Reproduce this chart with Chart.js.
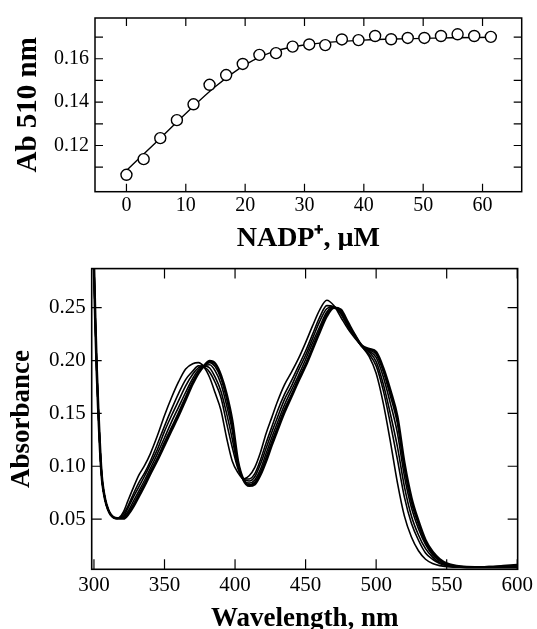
<!DOCTYPE html>
<html>
<head>
<meta charset="utf-8">
<title>NADP+ titration</title>
<script src="https://cdn.jsdelivr.net/npm/chart.js@4.4.0/dist/chart.umd.min.js"></script>
<style>
  html, body { margin: 0; padding: 0; background: #fff; }
  #wrap { position: relative; width: 537px; height: 629px; overflow: hidden; }
  #titrationChart { position: absolute; left: 0; top: 0; }
  #spectraChart { position: absolute; left: 0; top: 250px; }
</style>
</head>
<body>
<div id="wrap">
  <canvas id="titrationChart" width="537" height="250"></canvas>
  <canvas id="spectraChart" width="537" height="379"></canvas>
</div>
<script>
// Top panel: absorbance at 510 nm vs NADP+
const nadpConc = [0, 2.9, 5.7, 8.5, 11.3, 14.0, 16.8, 19.6, 22.4, 25.2, 28.0, 30.8,
    33.5, 36.3, 39.1, 41.9, 44.6, 47.4, 50.2, 53.0, 55.8, 58.6, 61.4];
const ab510 = [0.1065, 0.1137, 0.1234, 0.1317, 0.139, 0.148, 0.1525, 0.1576, 0.1618, 0.1626,
    0.1656, 0.1666, 0.1663, 0.1689, 0.1686, 0.1705, 0.169, 0.1696, 0.1696, 0.1705, 0.1713,
    0.1705, 0.1701];
const fitConc = [0, 5, 10, 15, 20, 25, 30, 35, 40, 45, 50, 55, 61.4];
const fitAb = [0.1085, 0.1215, 0.1348, 0.1472, 0.1572, 0.1635, 0.1664, 0.1678, 0.1686,
    0.1691, 0.1694, 0.1697, 0.1699];
const concTicks = [0, 10, 20, 30, 40, 50, 60];
const abTicks = [0.11, 0.12, 0.13, 0.14, 0.15, 0.16, 0.17];
const abLabels = [0.12, 0.14, 0.16];

// Bottom panel: spectra during the titration
const wavelengths = [300, 301, 302, 303, 304, 305, 306, 308, 310, 312, 315, 318, 321, 324,
    328, 332, 336, 340, 345, 350, 355, 360, 365, 370, 374, 378, 382, 386, 390, 394, 398, 402,
    406, 410, 414, 418, 422, 426, 430, 435, 440, 445, 450, 455, 460, 465, 470, 475, 480, 485,
    490, 495, 500, 505, 510, 515, 520, 525, 530, 535, 540, 545, 550, 560, 570, 580, 590, 600];
const absFree = [0.290, 0.235, 0.190, 0.155, 0.125, 0.100, 0.084, 0.068, 0.059, 0.054,
    0.0505, 0.0515, 0.057, 0.067,
    0.080, 0.092, 0.101, 0.112,
    0.129, 0.148, 0.165, 0.180, 0.192, 0.197,
    0.198, 0.194, 0.184, 0.169, 0.153, 0.127, 0.105, 0.094, 0.088, 0.091,
    0.099, 0.113, 0.131, 0.146, 0.161,
    0.177, 0.189, 0.202, 0.217, 0.233, 0.248, 0.257, 0.252, 0.241, 0.230, 0.221, 0.213, 0.204,
    0.188, 0.160, 0.124, 0.085, 0.053, 0.033, 0.020, 0.012, 0.008, 0.006, 0.005,
    0.0045, 0.0045, 0.005, 0.006, 0.007];
const absStep1 = [0.290, 0.235, 0.190, 0.155, 0.125, 0.100, 0.084, 0.068, 0.059, 0.054,
    0.051, 0.051, 0.055, 0.062,
    0.074, 0.085, 0.094, 0.105,
    0.121, 0.138, 0.154, 0.169, 0.182, 0.190,
    0.195, 0.194, 0.189, 0.179, 0.165, 0.141, 0.118, 0.098, 0.088, 0.088,
    0.093, 0.106, 0.122, 0.137, 0.152,
    0.168, 0.181, 0.195, 0.209, 0.225, 0.241, 0.252, 0.251, 0.244, 0.232, 0.222, 0.213, 0.206,
    0.195, 0.172, 0.141, 0.107, 0.071, 0.046, 0.030, 0.018, 0.012, 0.008, 0.006,
    0.0047, 0.0045, 0.005, 0.0055, 0.0061];
const absStep2 = [0.290, 0.235, 0.190, 0.155, 0.125, 0.100, 0.084, 0.068, 0.059, 0.054,
    0.051, 0.051, 0.053, 0.060,
    0.071, 0.081, 0.091, 0.102,
    0.116, 0.133, 0.148, 0.162, 0.176, 0.187,
    0.193, 0.195, 0.193, 0.184, 0.171, 0.150, 0.126, 0.100, 0.0875, 0.086,
    0.090, 0.102, 0.117, 0.132, 0.146,
    0.163, 0.176, 0.191, 0.205, 0.221, 0.237, 0.249, 0.251, 0.245, 0.233, 0.223, 0.2135, 0.208,
    0.199, 0.178, 0.150, 0.119, 0.081, 0.053, 0.035, 0.022, 0.014, 0.009, 0.0067,
    0.0048, 0.0045, 0.0047, 0.0052, 0.0056];
const absStep3 = [0.290, 0.235, 0.190, 0.155, 0.125, 0.100, 0.084, 0.068, 0.059, 0.054,
    0.051, 0.051, 0.052, 0.057,
    0.067, 0.077, 0.087, 0.098,
    0.112, 0.127, 0.142, 0.156, 0.170, 0.183,
    0.191, 0.195, 0.196, 0.190, 0.178, 0.158, 0.134, 0.102, 0.087, 0.084,
    0.087, 0.097, 0.112, 0.127, 0.141,
    0.158, 0.172, 0.186, 0.201, 0.217, 0.232, 0.246, 0.2505, 0.246, 0.2345, 0.223, 0.214, 0.209,
    0.203, 0.185, 0.160, 0.132, 0.091, 0.061, 0.041, 0.026, 0.016, 0.0105, 0.007,
    0.0049, 0.0045, 0.0046, 0.0049, 0.0051];
const absStep4 = [0.290, 0.235, 0.190, 0.155, 0.125, 0.100, 0.084, 0.068, 0.059, 0.054,
    0.051, 0.051, 0.051, 0.055,
    0.064, 0.074, 0.084, 0.095,
    0.108, 0.123, 0.137, 0.151, 0.166, 0.180,
    0.189, 0.195, 0.198, 0.194, 0.183, 0.164, 0.139, 0.104, 0.087, 0.0825,
    0.085, 0.094, 0.108, 0.123, 0.137,
    0.154, 0.168, 0.183, 0.197, 0.213, 0.229, 0.244, 0.250, 0.247, 0.235, 0.224, 0.214, 0.210,
    0.206, 0.190, 0.167, 0.141, 0.098, 0.066, 0.045, 0.028, 0.018, 0.011, 0.0077,
    0.005, 0.0045, 0.0045, 0.0047, 0.0048];
const absBound = [0.290, 0.235, 0.190, 0.155, 0.125, 0.100, 0.084, 0.068, 0.059, 0.054,
    0.051, 0.0505, 0.0505, 0.054,
    0.062, 0.072, 0.082, 0.093,
    0.106, 0.120, 0.134, 0.148, 0.163, 0.178,
    0.188, 0.195, 0.1995, 0.197, 0.186, 0.168, 0.143, 0.105, 0.087, 0.0815,
    0.083, 0.092, 0.105, 0.120, 0.134,
    0.151, 0.166, 0.181, 0.195, 0.211, 0.227, 0.242, 0.250, 0.248, 0.236, 0.224, 0.214, 0.211,
    0.208, 0.193, 0.172, 0.147, 0.103, 0.070, 0.048, 0.030, 0.019, 0.012, 0.008,
    0.005, 0.0045, 0.0045, 0.0045, 0.0045];
const waveTicks = [300, 350, 400, 450, 500, 550, 600];
const absTicks = [0.05, 0.10, 0.15, 0.20, 0.25];

const SERIF = "'Liberation Serif', 'Times New Roman', serif";

// box round the plot with inward tick marks on all four sides
const frameTicks = {
    id: 'frameTicks',
    afterDatasetsDraw(chart, args, opts) {
        const { ctx, chartArea: a, scales } = chart;
        ctx.save();
        ctx.strokeStyle = '#000';
        ctx.lineWidth = 1.2;
        ctx.beginPath();
        scales.x.ticks.forEach(t => {
            const px = scales.x.getPixelForValue(t.value);
            ctx.moveTo(px, a.bottom); ctx.lineTo(px, a.bottom - opts.len);
            ctx.moveTo(px, a.top); ctx.lineTo(px, a.top + opts.len);
        });
        scales.y.ticks.forEach(t => {
            const py = scales.y.getPixelForValue(t.value);
            ctx.moveTo(a.left, py); ctx.lineTo(a.left + opts.len, py);
            ctx.moveTo(a.right, py); ctx.lineTo(a.right - opts.len, py);
        });
        ctx.stroke();
        ctx.lineWidth = opts.frame;
        ctx.strokeRect(a.left, a.top, a.right - a.left, a.bottom - a.top);
        ctx.restore();
    }
};

function toPoints(xs, ys) {
    return xs.map((x, i) => ({ x: x, y: ys[i] }));
}

// Titration chart
new Chart(document.getElementById('titrationChart'), {
    type: 'scatter',
    data: {
        datasets: [{
            label: 'Ab 510 nm',
            data: toPoints(nadpConc, ab510),
            pointStyle: 'circle',
            pointRadius: 5.5,
            pointBorderWidth: 1.4,
            pointBorderColor: '#000',
            pointBackgroundColor: '#fff',
            order: 0
        }, {
            label: 'fit',
            data: toPoints(fitConc, fitAb),
            showLine: true,
            borderColor: '#000',
            borderWidth: 1.4,
            pointRadius: 0,
            cubicInterpolationMode: 'monotone',
            order: 1
        }]
    },
    options: {
        responsive: false,
        animation: false,
        layout: { padding: { left: 0, right: 15.3, top: 14, bottom: 0 } },
        plugins: {
            legend: { display: false },
            tooltip: { enabled: false },
            frameTicks: { len: 8, frame: 1.5 }
        },
        scales: {
            x: {
                type: 'linear',
                min: -5.3,
                max: 66.6,
                afterBuildTicks: s => { s.ticks = concTicks.map(v => ({ value: v })); },
                afterFit: s => { s.height = 58.3; },
                grid: { display: false, drawTicks: false },
                border: { display: false },
                ticks: {
                    autoSkip: false,
                    maxRotation: 0,
                    padding: 2,
                    color: '#000',
                    font: { family: SERIF, size: 20 }
                },
                title: {
                    display: true,
                    text: 'NADP⁺, µM',
                    color: '#000',
                    padding: { top: 0, bottom: -3 },
                    font: { family: SERIF, size: 28, weight: 'bold', lineHeight: 1 }
                }
            },
            y: {
                min: 0.0987,
                max: 0.1788,
                afterBuildTicks: s => { s.ticks = abTicks.map(v => ({ value: v })); },
                afterFit: s => { s.width = 95; },
                grid: { display: false, drawTicks: false },
                border: { display: false },
                ticks: {
                    autoSkip: false,
                    padding: 6,
                    color: '#000',
                    font: { family: SERIF, size: 20 },
                    callback: v => abLabels.includes(v) ? v.toFixed(2) : ''
                },
                title: {
                    display: true,
                    text: 'Ab 510 nm',
                    color: '#000',
                    padding: { top: 14, bottom: 0 },
                    font: { family: SERIF, size: 29, weight: 'bold', lineHeight: 1 }
                }
            }
        }
    },
    plugins: [frameTicks]
});

// Spectra chart
const spectra = [absFree, absStep1, absStep2, absStep3, absStep4, absBound];

new Chart(document.getElementById('spectraChart'), {
    type: 'scatter',
    data: {
        datasets: spectra.map((ys, i) => ({
            label: 'spectrum ' + (i + 1),
            data: toPoints(wavelengths, ys),
            showLine: true,
            borderColor: '#000',
            borderWidth: i === spectra.length - 1 ? 2.6 : 1.6,
            pointRadius: 0,
            cubicInterpolationMode: 'monotone'
        }))
    },
    options: {
        responsive: false,
        animation: false,
        layout: { padding: { left: 0, right: 17, top: 8.3, bottom: 0 } },
        plugins: {
            legend: { display: false },
            tooltip: { enabled: false },
            frameTicks: { len: 10, frame: 1.6 }
        },
        scales: {
            x: {
                type: 'linear',
                min: 298.4,
                max: 600.3,
                afterBuildTicks: s => { s.ticks = waveTicks.map(v => ({ value: v })); },
                afterFit: s => { s.height = 59.7; },
                grid: { display: false, drawTicks: false },
                border: { display: false },
                ticks: {
                    autoSkip: false,
                    maxRotation: 0,
                    padding: 4,
                    color: '#000',
                    font: { family: SERIF, size: 21 }
                },
                title: {
                    display: true,
                    text: 'Wavelength, nm',
                    color: '#000',
                    padding: { top: 0, bottom: -4 },
                    font: { family: SERIF, size: 27, weight: 'bold', lineHeight: 1 }
                }
            },
            y: {
                min: 0.0025,
                max: 0.287,
                afterBuildTicks: s => { s.ticks = absTicks.map(v => ({ value: v })); },
                afterFit: s => { s.width = 91.7; },
                grid: { display: false, drawTicks: false },
                border: { display: false },
                ticks: {
                    autoSkip: false,
                    padding: 6,
                    color: '#000',
                    font: { family: SERIF, size: 21 },
                    callback: v => v.toFixed(2)
                },
                title: {
                    display: true,
                    text: 'Absorbance',
                    color: '#000',
                    padding: { top: 8.5, bottom: 0 },
                    font: { family: SERIF, size: 27, weight: 'bold', lineHeight: 1 }
                }
            }
        }
    },
    plugins: [frameTicks]
});
</script>
</body>
</html>
